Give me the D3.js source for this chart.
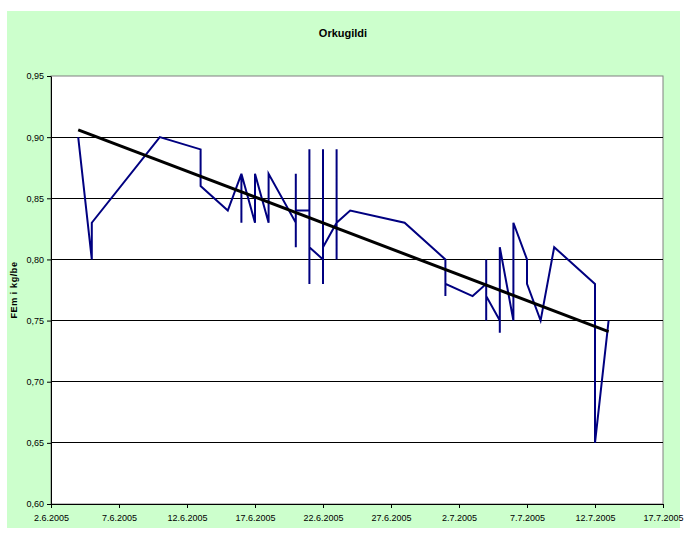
<!DOCTYPE html>
<html>
<head>
<meta charset="utf-8">
<script src="https://cdn.jsdelivr.net/npm/d3@7"></script>
<style>
  body { margin: 0; background: #fff; }
  text { font-family: "Liberation Sans", Arial, sans-serif; }
</style>
</head>
<body>
<svg width="685" height="534"></svg>
<script>
// measurements, several per day in some cases
var dates = [
  "2005-06-04", "2005-06-05", "2005-06-05", "2005-06-10", "2005-06-13", "2005-06-13",
  "2005-06-15", "2005-06-16", "2005-06-16", "2005-06-16", "2005-06-17", "2005-06-17",
  "2005-06-18", "2005-06-18",
  "2005-06-20", "2005-06-20", "2005-06-20", "2005-06-20",
  "2005-06-21", "2005-06-21", "2005-06-21", "2005-06-21",
  "2005-06-22", "2005-06-22", "2005-06-22", "2005-06-22",
  "2005-06-23", "2005-06-23", "2005-06-23", "2005-06-23",
  "2005-06-24", "2005-06-28",
  "2005-07-01", "2005-07-01", "2005-07-01", "2005-07-03",
  "2005-07-04", "2005-07-04", "2005-07-04", "2005-07-04",
  "2005-07-05", "2005-07-05", "2005-07-05",
  "2005-07-06", "2005-07-06", "2005-07-07", "2005-07-07",
  "2005-07-08", "2005-07-09", "2005-07-12", "2005-07-12", "2005-07-13"
];
var values = [
  0.90, 0.80, 0.83, 0.90, 0.89, 0.86,
  0.84, 0.87, 0.83, 0.87, 0.83, 0.87,
  0.83, 0.87,
  0.83, 0.87, 0.81, 0.84,
  0.84, 0.89, 0.78, 0.81,
  0.80, 0.89, 0.78, 0.81,
  0.83, 0.89, 0.80, 0.83,
  0.84, 0.83,
  0.80, 0.77, 0.78, 0.77,
  0.78, 0.80, 0.75, 0.77,
  0.75, 0.74, 0.81,
  0.75, 0.83, 0.80, 0.78,
  0.75, 0.81, 0.78, 0.65, 0.75
];
// linear trendline (first and last date)
var trendDates = ["2005-06-04", "2005-07-13"];
var trendValues = [0.906, 0.741];

var xTicks = ["2005-06-02", "2005-06-07", "2005-06-12", "2005-06-17", "2005-06-22",
  "2005-06-27", "2005-07-02", "2005-07-07", "2005-07-12", "2005-07-17"];
var yTicks = [0.60, 0.65, 0.70, 0.75, 0.80, 0.85, 0.90, 0.95];

var parse = d3.utcParse("%Y-%m-%d");
var data = dates.map((d, i) => ({date: parse(d), value: values[i]}));
var trend = trendDates.map((d, i) => ({date: parse(d), value: trendValues[i]}));

var svg = d3.select("svg");

svg.append("rect")
  .attr("x", 7).attr("y", 11)
  .attr("width", 673).attr("height", 517)
  .attr("fill", "#ccffcc");

var x = d3.scaleUtc()
  .domain([parse(xTicks[0]), parse(xTicks[xTicks.length - 1])])
  .range([51, 663]);
var y = d3.scaleLinear().domain([0.60, 0.95]).range([504, 76]);

svg.append("rect")
  .attr("x", 51).attr("y", 76)
  .attr("width", 612).attr("height", 428)
  .attr("fill", "#fff")
  .attr("stroke", "#808080");

// gridlines
svg.append("g")
  .selectAll("line")
  .data(yTicks.slice(1, -1))
  .join("line")
  .attr("x1", 51).attr("x2", 663)
  .attr("y1", d => y(d)).attr("y2", d => y(d))
  .attr("stroke", "#000")
  .attr("stroke-width", 1)
  .attr("shape-rendering", "crispEdges");

var comma = d3.formatLocale({decimal: ",", thousands: ".", grouping: [3], currency: ["", ""]});

var yAxis = svg.append("g")
  .attr("transform", "translate(51,0)")
  .call(d3.axisLeft(y).tickValues(yTicks).tickFormat(comma.format(".2f")).tickSize(4).tickSizeOuter(0));

var fmtDate = d3.utcFormat("%-d.%-m.%Y");
var xAxis = svg.append("g")
  .attr("transform", "translate(0,504)")
  .call(d3.axisBottom(x).tickValues(xTicks.map(parse)).tickFormat(fmtDate).tickSize(4).tickSizeOuter(0));

[yAxis, xAxis].forEach(g => {
  g.select(".domain").attr("stroke", "#000");
  g.selectAll(".tick line").attr("stroke", "#000");
  g.selectAll(".tick text").attr("font-size", 9).attr("fill", "#000")
    .style("font-family", "'Liberation Sans', Arial, sans-serif");
});
xAxis.selectAll(".tick text").attr("dy", "1.1em");

// data line
var line = d3.line().x(d => x(d.date)).y(d => y(d.value));
svg.append("path")
  .datum(data)
  .attr("d", line)
  .attr("fill", "none")
  .attr("stroke", "#000080")
  .attr("stroke-width", 2)
  .attr("stroke-linejoin", "miter");

svg.append("path")
  .datum(trend)
  .attr("d", line)
  .attr("fill", "none")
  .attr("stroke", "#000")
  .attr("stroke-width", 3);

svg.append("text")
  .attr("x", 343).attr("y", 37)
  .attr("text-anchor", "middle")
  .attr("font-size", 11)
  .attr("font-weight", "bold")
  .text("Orkugildi");

svg.append("text")
  .attr("transform", "translate(17,290) rotate(-90)")
  .attr("text-anchor", "middle")
  .attr("font-size", 9)
  .attr("font-weight", "bold")
  .attr("letter-spacing", 0.6)
  .text("FEm i kg/be");
</script>
</body>
</html>
